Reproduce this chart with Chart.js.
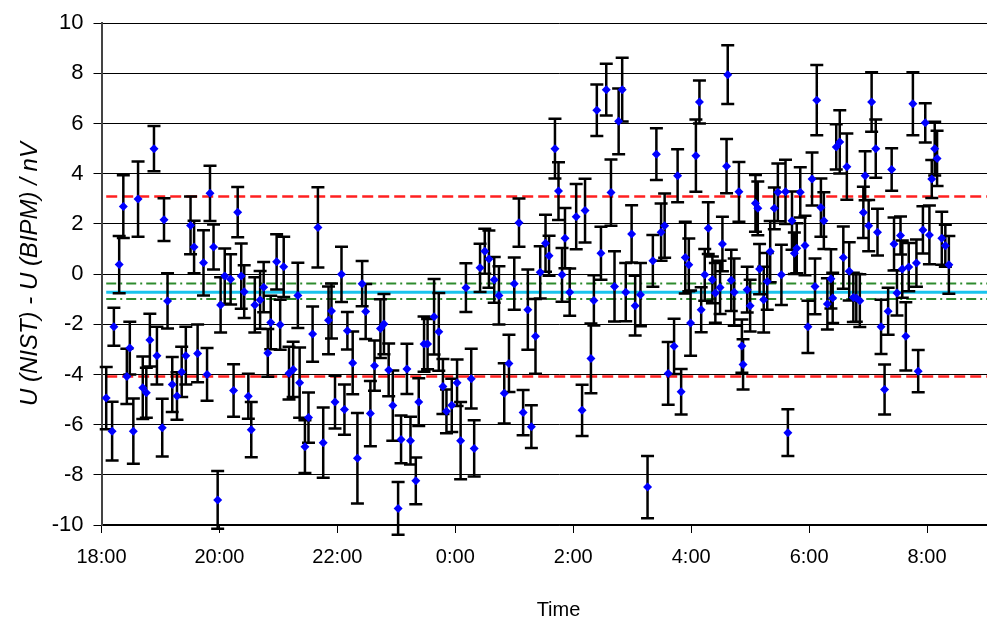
<!DOCTYPE html>
<html>
<head>
<meta charset="utf-8">
<script src="https://cdn.jsdelivr.net/npm/chart.js@4"></script>
<style>
  html, body { margin: 0; padding: 0; background: #fff; overflow: hidden; }
  #wrap { width: 1020px; height: 628px; }
</style>
</head>
<body>
<div id="wrap"><canvas id="chart" width="1020" height="628"></canvas></div>
<script>
// --- Data: time in hours after 18:00, difference in nV, 1-sigma error ---
const times = [
  0.08,0.18,0.21,0.30,0.37,0.43,0.48,0.54,0.62,0.70,0.76,0.82,0.89,0.94,1.03,1.06,1.12,1.20,1.28,1.36,1.43,1.51,1.57,1.63,1.73,1.79,1.84,1.90,1.97,2.02,2.09,
  2.19,2.24,2.31,2.37,2.42,2.49,2.54,2.60,2.69,2.75,2.82,2.87,2.97,3.03,3.09,3.18,3.25,3.33,3.36,3.45,3.51,3.58,3.67,3.76,3.85,3.90,3.96,4.07,4.12,4.17,4.26,4.34,
  4.42,4.48,4.56,4.63,4.73,4.79,4.87,4.94,5.03,5.08,5.18,5.24,5.33,5.38,5.47,5.53,5.64,5.72,5.79,5.85,5.94,6.03,6.09,6.18,6.27,6.32,6.42,6.50,
  6.57,6.66,6.74,6.83,6.91,7.00,7.08,7.15,7.23,7.29,7.36,7.44,7.53,7.59,7.69,7.75,7.81,7.86,7.94,8.05,8.15,8.20,8.30,8.35,8.40,8.47,8.56,8.64,8.70,
  8.77,8.83,8.89,8.99,9.05,9.14,9.26,9.35,9.41,9.49,9.55,9.61,9.71,9.77,9.83,9.90,9.96,9.99,10.08,10.14,10.17,10.23,10.29,10.36,10.41,10.49,10.53,10.60,10.62,10.68,10.73,10.81,10.86,10.88,
  10.95,11.00,11.09,11.13,11.16,11.23,11.29,11.34,11.41,11.47,11.53,11.60,11.64,11.71,11.75,11.79,11.85,11.93,11.98,12.05,12.10,12.13,12.20,12.25,12.31,12.37,12.40,12.46,12.52,12.58,12.64,12.68,12.75,12.80,12.86,12.92,12.95,13.01,
  13.06,13.13,13.16,13.22,13.28,13.34,13.40,13.44,13.49,13.55,13.58,13.64,13.69,13.76,13.82,13.85,13.93,13.97,14.04,14.08,14.13,14.17,14.25,14.31,14.37
];
const values = [
  -4.94,-6.26,-2.1,0.38,2.69,-4.08,-2.95,-6.26,2.99,-4.53,-4.73,-2.63,5.0,-3.25,-6.12,2.17,-1.07,-4.4,-4.86,-3.9,-3.25,1.94,1.08,-3.16,0.45,-4.0,3.22,1.08,-9.0,-1.23,-0.08,
  -0.21,-4.64,2.47,-0.08,-0.7,-4.87,-6.2,-1.23,-1.03,-0.52,-3.14,-1.93,0.49,-2.02,0.29,-3.95,-3.8,-0.85,-4.33,-6.88,-5.72,-2.39,1.86,-6.72,-1.84,-1.47,-5.1,-0.01,-5.4,-2.26,-3.54,-7.34,
  -0.38,-1.49,-5.56,-3.65,-2.17,-1.99,-3.82,-5.24,-9.34,-6.59,-3.78,-6.64,-8.24,-5.1,-2.79,-2.79,-1.7,-2.3,-4.48,-5.47,-5.23,-4.33,-6.64,-0.54,-4.17,-6.95,0.25,0.91,
  0.6,-0.23,-0.85,-4.75,-3.56,-0.38,2.05,-5.52,-1.42,-6.08,-2.48,0.07,1.23,0.73,5.0,3.31,-0.03,1.43,-0.72,2.29,-5.43,2.53,-3.36,-1.05,6.53,0.83,7.35,3.25,-0.49,
  6.09,7.35,-0.72,1.6,-1.26,-0.82,-8.49,0.53,4.78,1.67,1.93,-3.96,-2.88,3.92,-4.69,0.66,0.37,-1.95,4.72,6.86,-1.42,-0.03,1.83,-0.23,-0.75,-0.53,1.2,4.3,7.95,-0.25,-0.72,3.28,-2.87,-3.6,
  -0.62,-1.26,2.82,2.62,0.2,-1.02,-0.29,0.9,2.62,3.26,-0.03,3.28,-6.32,2.13,0.83,1.03,3.26,1.14,-2.1,3.79,-0.49,6.93,2.65,2.13,-1.19,-0.19,-0.95,5.07,5.27,0.66,4.28,0.11,-0.93,-0.95,-1.06,2.46,3.92,1.93,
  6.86,5.0,1.67,-2.1,-4.6,-1.48,4.17,1.2,-0.75,1.54,0.2,-2.48,0.28,6.79,0.44,-3.87,1.76,6.03,1.56,3.79,5.0,4.61,1.43,1.13,0.37
];
const errors = [
  1.24,1.17,0.76,1.14,1.25,1.1,1.05,1.3,1.5,1.25,1.0,1.05,0.9,1.15,1.15,0.85,1.1,1.1,0.95,1.0,1.15,1.15,1.05,1.15,1.3,1.05,1.1,0.9,1.15,1.1,1.1,
  1.0,1.05,1.0,1.3,1.05,0.9,1.1,1.1,1.15,1.0,0.95,1.07,1.1,1.0,1.2,1.05,1.1,1.3,1.4,1.05,1.0,1.1,1.6,1.4,1.35,1.1,1.05,1.1,1.0,0.75,1.25,1.8,
  0.9,1.1,1.3,1.0,1.17,1.2,1.05,1.4,1.05,0.95,1.0,0.95,0.93,0.95,1.1,1.0,1.5,1.55,1.1,0.87,1.06,0.93,1.54,0.97,1.19,1.12,0.96,0.9,
  1.14,0.91,1.16,1.2,1.14,1.04,0.96,0.9,1.6,0.85,1.49,1.04,1.14,0.8,1.19,1.15,1.07,1.2,0.94,1.3,1.02,1.27,1.39,1.0,1.03,1.06,1.03,1.32,1.4,
  1.31,1.27,1.16,1.14,1.19,1.26,1.24,1.03,1.03,1.14,1.28,1.25,1.1,1.06,0.91,1.43,1.05,1.3,1.44,0.86,0.9,1.03,1.03,0.93,1.19,1.06,1.09,1.08,1.17,1.22,1.34,1.19,1.06,1.0,
  0.91,1.03,1.13,1.07,1.0,1.31,1.13,1.22,0.83,1.15,1.2,1.28,0.93,1.16,0.83,1.0,1.0,1.19,1.04,1.06,1.11,1.4,1.16,1.13,1.02,1.18,1.0,0.9,1.26,1.24,1.32,1.16,0.98,0.95,1.05,1.02,0.98,1.02,
  1.19,1.16,0.93,1.08,1.0,0.94,0.85,1.06,0.9,0.76,1.14,1.36,0.96,1.26,0.94,0.84,0.94,0.78,1.17,0.76,1.07,1.1,1.06,0.84,1.15
];

// --- Axis ticks ---
const tickHours = [0, 2, 4, 6, 8, 10, 12, 14];
const tickLabels = ["18:00", "20:00", "22:00", "0:00", "2:00", "4:00", "6:00", "8:00"];

// --- Reference levels (nV) ---
const limitUpper = 3.09;
const limitLower = -4.08;
const meanLevel = -0.72;
const meanBandUpper = -0.37;
const meanBandLower = -0.99;
const levelStart = 0.08;
const levelEnd = 15.5;

const hline = (y) => [{ x: levelStart, y }, { x: levelEnd, y }];

// --- Error bars, drawn under the diamonds ---
const errorBars = {
  id: "errorBars",
  beforeDatasetDraw(chart, args) {
    if (args.index !== 0) return;
    const { ctx, scales: { x, y } } = chart;
    ctx.save();
    ctx.strokeStyle = "#000";
    ctx.lineWidth = 2.5;
    ctx.beginPath();
    times.forEach((t, i) => {
      const px = x.getPixelForValue(t);
      const top = y.getPixelForValue(values[i] + errors[i]);
      const bot = y.getPixelForValue(values[i] - errors[i]);
      ctx.moveTo(px, top); ctx.lineTo(px, bot);
      ctx.moveTo(px - 6.5, top); ctx.lineTo(px + 6.5, top);
      ctx.moveTo(px - 6.5, bot); ctx.lineTo(px + 6.5, bot);
    });
    ctx.stroke();
    ctx.restore();
  }
};

Chart.defaults.font.family = "'Liberation Sans', Arial, sans-serif";
Chart.defaults.color = "#000";

const ctx = document.getElementById("chart").getContext("2d");
new Chart(ctx, {
  type: "scatter",
  data: {
    datasets: [
      {
        label: "U(NIST) - U(BIPM)",
        data: times.map((t, i) => ({ x: t, y: values[i] })),
        pointStyle: "rectRot",
        pointRadius: 4.5,
        backgroundColor: "#0000ff",
        borderColor: "#0000ff",
        borderWidth: 0,
        order: 0
      },
      {
        data: hline(meanBandUpper), showLine: true, pointRadius: 0,
        borderColor: "#2e8b2e", borderWidth: 2, borderDash: [10, 4, 2, 4], order: 1
      },
      {
        data: hline(meanBandLower), showLine: true, pointRadius: 0,
        borderColor: "#2e8b2e", borderWidth: 2, borderDash: [10, 4, 2, 4], order: 1
      },
      {
        data: hline(meanLevel), showLine: true, pointRadius: 0,
        borderColor: "#19c4ee", borderWidth: 3, order: 1
      },
      {
        data: hline(limitUpper), showLine: true, pointRadius: 0,
        borderColor: "#ff2020", borderWidth: 2.5, borderDash: [11, 5], order: 1
      },
      {
        data: hline(limitLower), showLine: true, pointRadius: 0,
        borderColor: "#ff2020", borderWidth: 2.5, borderDash: [11, 5], order: 1
      }
    ]
  },
  options: {
    responsive: false,
    animation: false,
    devicePixelRatio: 1,
    layout: { padding: { top: 20, left: 0, right: 0, bottom: 0 } },
    plugins: { legend: { display: false }, tooltip: { enabled: false } },
    scales: {
      x: {
        type: "linear",
        min: 0,
        max: 15.5,
        afterBuildTicks: (s) => { s.ticks = tickHours.map(v => ({ value: v })); },
        afterFit: (s) => { s.height = 103; },
        ticks: {
          autoSkip: false,
          maxRotation: 0,
          padding: 12,
          font: { size: 20 },
          callback: (v) => tickLabels[tickHours.indexOf(v)]
        },
        grid: { drawOnChartArea: false, drawTicks: true, tickLength: 8, color: "#000", lineWidth: 1 },
        border: { color: "#000", width: 1.5 },
        title: { display: true, text: "Time", font: { size: 20 }, padding: { top: 0, bottom: 6 } }
      },
      y: {
        min: -10,
        max: 10,
        afterFit: (s) => { s.width = 101.5; },
        ticks: { stepSize: 2, padding: 10, font: { size: 22 } },
        grid: { color: "#000", lineWidth: 1, tickLength: 8 },
        border: { color: "#444", width: 2 },
        title: {
          display: true,
          text: "U (NIST) - U (BIPM) / nV",
          font: { size: 24, style: "italic" },
          padding: { top: 16, bottom: 0 }
        }
      }
    }
  },
  plugins: [errorBars]
});
</script>
</body>
</html>
